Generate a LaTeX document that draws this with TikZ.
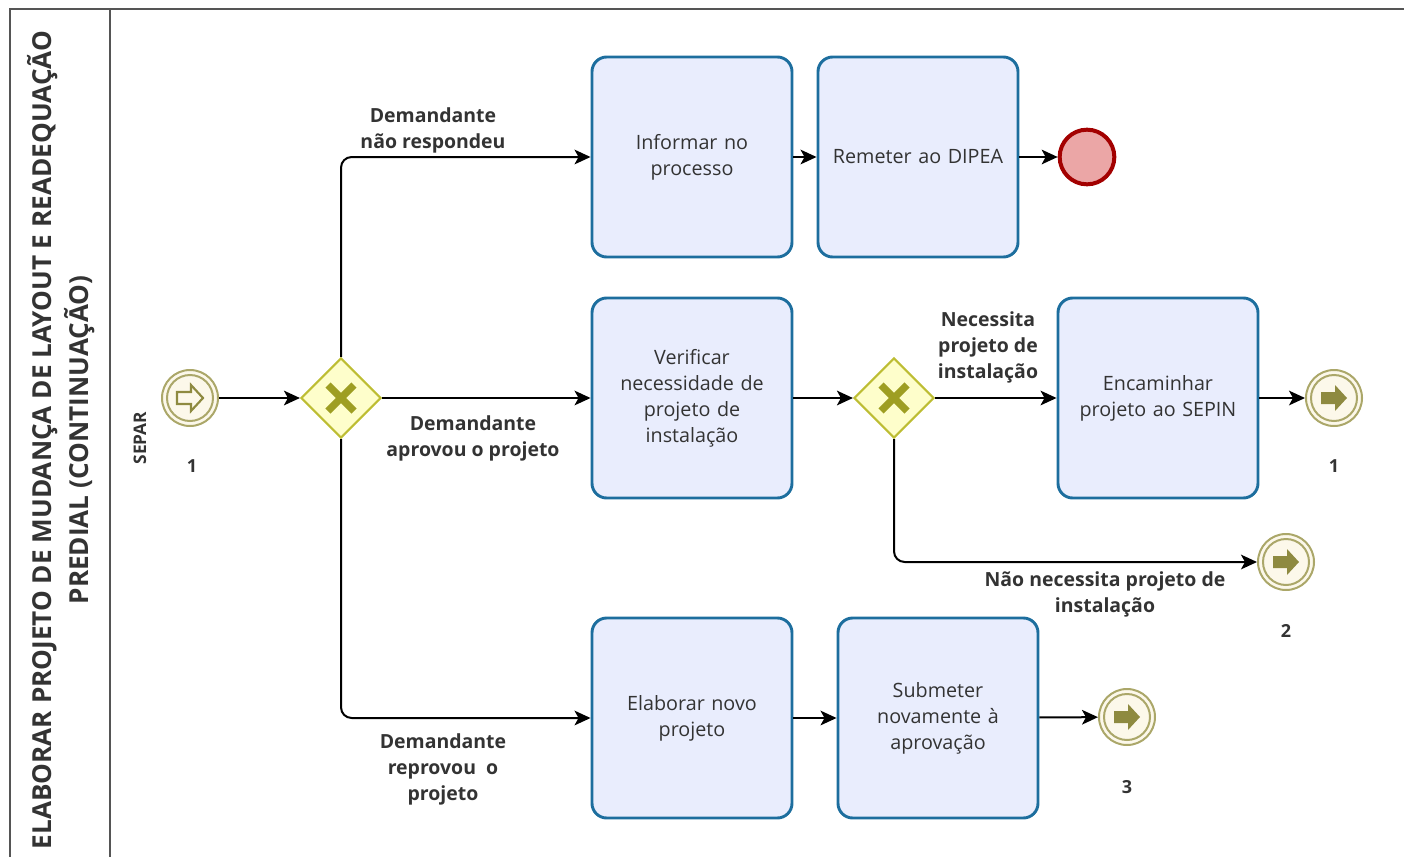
\documentclass[tikz,border=0pt]{standalone}
\usepackage{fontspec}
\setmainfont{Open Sans}
\usetikzlibrary{arrows.meta,shapes.geometric}
\definecolor{taskfill}{HTML}{E9EDFD}
\definecolor{taskline}{HTML}{1D6E9E}
\definecolor{txt}{HTML}{333333}
\definecolor{gwfill}{HTML}{FEFECB}
\definecolor{gwline}{HTML}{BDBD33}
\definecolor{gwmark}{HTML}{9E9E22}
\definecolor{evfill}{HTML}{FCF8EA}
\definecolor{evline}{HTML}{ABA769}
\definecolor{evmark}{HTML}{8E8A40}
\definecolor{endfill}{HTML}{EBA6A6}
\definecolor{endline}{HTML}{A30000}
\definecolor{poolline}{HTML}{555555}
\tikzset{
  x=0.75pt, y=-0.75pt,
  task/.style={draw=taskline, fill=taskfill, line width=2.2pt, rounded corners=11pt,
    minimum width=150pt, minimum height=150pt, inner sep=4pt, align=center,
    text width=136pt, text=txt, font=\fontsize{14.8}{19.5}\selectfont},
  gateway/.style={diamond, draw=gwline, fill=gwfill, line width=1.6pt,
    minimum width=60pt, minimum height=60pt, inner sep=0pt},
  linkev/.style={circle, draw=evline, fill=evfill, line width=1.5pt,
    minimum size=42pt, inner sep=0pt},
  endev/.style={circle, draw=endline, fill=endfill, line width=3pt,
    minimum size=41pt, inner sep=0pt},
  flow/.style={draw=black, line width=1.5pt, rounded corners=8pt,
    -{Stealth[length=12pt,width=11pt,inset=3pt]}},
  lbl/.style={font=\bfseries\fontsize{14.6}{19.5}\selectfont, text=txt, align=center},
  num/.style={font=\bfseries\fontsize{13.5}{15}\selectfont, text=txt},
}
\newcommand{\gwx}[1]{%
  \begin{scope}[shift={(#1.center)}]
    \draw[gwmark, line width=5.5pt] (-13,-13) -- (13,13) (-13,13) -- (13,-13);
  \end{scope}}
\newcommand{\linkring}[1]{%
  \draw[evline, line width=1.5pt] (#1.center) circle[radius=23];}
\newcommand{\linkthrow}[1]{%
  \linkring{#1}
  \begin{scope}[shift={(#1.center)}]
    \fill[evmark] (-13,-6) -- (1,-6) -- (1,-13) -- (13,0) -- (1,13) -- (1,6) -- (-13,6) -- cycle;
  \end{scope}}
\newcommand{\linkcatch}[1]{%
  \linkring{#1}
  \begin{scope}[shift={(#1.center)}]
    \draw[evmark, line width=1.6pt, line join=miter] (-13,-6) -- (1,-6) -- (1,-13) -- (13,0) -- (1,13) -- (1,6) -- (-13,6) -- cycle;
  \end{scope}}
\begin{document}
\begin{tikzpicture}
\useasboundingbox (0,0) rectangle (1404,857);
% pool frame
\draw[poolline, line width=1.5pt] (1404,9) -- (10,9) -- (10,860);
\draw[poolline, line width=1.5pt] (110,9) -- (110,860);
\node[rotate=90, font=\bfseries\fontsize{19.6}{28}\selectfont, text=txt, align=center]
  (pool) at (61,440) {ELABORAR PROJETO DE MUDANÇA DE LAYOUT E READEQUAÇÃO\\PREDIAL (CONTINUAÇÃO)};
\node[rotate=90, font=\bfseries\fontsize{13}{14}\selectfont, text=txt] (lane) at (140,438) {SEPAR};

% events and gateways
\node[linkev] (start) at (190,398) {};
\linkcatch{start}
\node[num] (startn) at (192,466) {1};
\node[gateway] (gw1) at (341,398) {};
\gwx{gw1}
\node[gateway] (gw2) at (894,398) {};
\gwx{gw2}
\node[endev] (end) at (1087,157) {};
\node[linkev] (l1) at (1334,398) {};
\linkthrow{l1}
\node[num] (l1n) at (1334,466) {1};
\node[linkev] (l2) at (1286,562) {};
\linkthrow{l2}
\node[num] (l2n) at (1286,631) {2};
\node[linkev] (l3) at (1127,717) {};
\linkthrow{l3}
\node[num] (l3n) at (1127,787) {3};

% tasks
\node[task] (informar) at (692,157) {Informar no\\processo};
\node[task] (remeter) at (918,157) {Remeter ao DIPEA};
\node[task] (verificar) at (692,398) {Verificar\\necessidade de\\projeto de\\instalação};
\node[task] (encaminhar) at (1158,398) {Encaminhar\\projeto ao SEPIN};
\node[task] (elaborar) at (692,718) {Elaborar novo\\projeto};
\node[task] (submeter) at (938,718) {Submeter\\novamente à\\aprovação};

% sequence flows
\draw[flow] (start) -- (gw1);
\draw[flow] (gw1.north) |- (informar.west);
\draw[flow] (gw1) -- (verificar);
\draw[flow] (gw1.south) |- (elaborar.west);
\draw[flow] (informar) -- (remeter);
\draw[flow] (remeter) -- (end);
\draw[flow] (verificar) -- (gw2);
\draw[flow] (gw2) -- (encaminhar);
\draw[flow] (gw2.south) |- (l2.west);
\draw[flow] (encaminhar) -- (l1);
\draw[flow] (elaborar) -- (submeter);
\draw[flow] (submeter) -- (l3);

% flow labels
\node[lbl] (c1) at (433,130) {Demandante\\não respondeu};
\node[lbl] (c2) at (473,438) {Demandante\\aprovou o projeto};
\node[lbl] (c3) at (443,769) {Demandante\\reprovou~~o\\projeto};
\node[lbl] (c4) at (988,347) {Necessita\\projeto de\\instalação};
\node[lbl] (c5) at (1105,594) {Não necessita projeto de\\instalação};
\end{tikzpicture}
\end{document}
